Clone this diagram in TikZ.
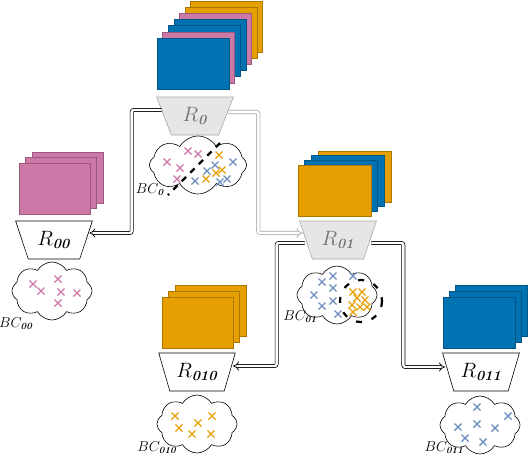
\documentclass[tikz,border=0pt]{standalone}
\usepackage{amsmath}
\usetikzlibrary{arrows.meta,shapes.geometric,shapes.symbols}
\definecolor{CardBlue}{HTML}{0072B2}
\definecolor{CardPink}{HTML}{CC79A7}
\definecolor{CardOrange}{HTML}{E69F00}
\definecolor{MarkBlue}{HTML}{6C8EBF}
\definecolor{StageGray}{HTML}{E6E6E6}
\definecolor{StageEdge}{HTML}{A6A6A6}

\begin{document}
\begin{tikzpicture}[x=1pt,y=-1pt,
  card/.style={rectangle,draw=#1!75!black,fill=#1,line width=0.5pt,minimum width=72pt,minimum height=51pt,inner sep=0pt},
  stage/.style={trapezium,trapezium stretches=true,shape border rotate=180,trapezium angle=68,minimum width=77pt,minimum height=38pt,draw=black,fill=white,line width=0.6pt,font=\fontsize{20}{22}\selectfont},
  donestage/.style={stage,draw=StageEdge,fill=StageGray,text=black!55},
  pool/.style={cloud,cloud puffs=8,cloud puff arc=120,cloud ignores aspect,draw=black,fill=white,line width=0.6pt,minimum width=80pt,minimum height=58pt},
  poollabel/.style={font=\fontsize{13.5}{15}\selectfont,inner sep=0pt},
  xmark/.style={draw=#1,line width=1.4pt},
  split/.style={draw=black,line width=2.2pt,dash pattern=on 6pt off 6pt},
  link/.style={draw=black,double=white,double distance=2.4pt,line width=0.7pt,rounded corners=2pt,-{Implies}},
  donelink/.style={link,draw=black!28,line width=0.9pt}
]
\useasboundingbox (0,0) rectangle (528,456);

% card stacks, back to front
\foreach \k/\c in {6/CardOrange,5/CardOrange,4/CardPink,3/CardBlue,2/CardBlue,1/CardPink,0/CardBlue}
  \node[card=\c] (deck0-\k) at ({193+5.6*\k},{63.5-6.2*\k}) {};
\foreach \k in {2,1,0}
  \node[card=CardPink,minimum width=71pt] (deck00-\k) at ({54.5+6.5*\k},{188.5-5.5*\k}) {};
\foreach \k/\c in {3/CardOrange,2/CardBlue,1/CardBlue,0/CardOrange}
  \node[card=\c,minimum width=73pt] (deck01-\k) at ({334.5+6.7*\k},{190.5-4.7*\k}) {};
\foreach \k in {2,1,0}
  \node[card=CardOrange,minimum width=71pt] (deck010-\k) at ({197.5+6.5*\k},{322.5-6*\k}) {};
\foreach \k in {2,1,0}
  \node[card=CardBlue] (deck011-\k) at ({479+6*\k},{322.5-6*\k}) {};

% stages
\node[donestage] (R0) at (195,116) {$R_{\textbf{\textit{0}}}$};
\node[stage] (R00) at (54,240) {$R_{\textbf{\textit{00}}}$};
\node[donestage] (R01) at (338,240) {$R_{\textbf{\textit{01}}}$};
\node[stage] (R010) at (197,372) {$R_{\textbf{\textit{010}}}$};
\node[stage] (R011) at (481,372) {$R_{\textbf{\textit{011}}}$};

% clouds of samples
\node[pool,minimum width=97pt] (bc0) at (198,165) {};
\node[pool] (bc00) at (52,291) {};
\node[pool] (bc01) at (337,295) {};
\node[pool] (bc010) at (197,424) {};
\node[pool] (bc011) at (480,425) {};

\node[poollabel] (lbc0) at (150,190) {$BC_{\textbf{\textit{0}}}$};
\node[poollabel] (lbc00) at (16,324) {$BC_{\textbf{\textit{00}}}$};
\node[poollabel] (lbc01) at (300,317) {$BC_{\textbf{\textit{01}}}$};
\node[poollabel] (lbc010) at (157,448) {$BC_{\textbf{\textit{010}}}$};
\node[poollabel] (lbc011) at (444,448) {$BC_{\textbf{\textit{011}}}$};

% samples
\foreach \x/\y in {188/151,198/154,167/162,180/168,177/179, 33/284,41/291,58/279,61/292,77/293,58/303}
  \draw[xmark=CardPink] (\x,\y) +(-3.5,-3.5) -- +(3.5,3.5) +(-3.5,3.5) -- +(3.5,-3.5);
\foreach \x/\y in {219/155,206/179,216/173,222/170, 353/292,362/292,357/298,365/300,352/305,360/307,353/312,367/307, 175/416,212/416,198/423,179/428,192/434,211/434}
  \draw[xmark=CardOrange] (\x,\y) +(-3.5,-3.5) -- +(3.5,3.5) +(-3.5,3.5) -- +(3.5,-3.5);
\foreach \x/\y in {215/165,233/162,207/171,195/181,220/182,227/179, 322/282,333/276,353/276,333/288,314/295,333/301,322/306,338/314, 477/407,508/416,477/424,458/427,495/428,465/438,483/442}
  \draw[xmark=MarkBlue] (\x,\y) +(-3.5,-3.5) -- +(3.5,3.5) +(-3.5,3.5) -- +(3.5,-3.5);

% splits
\draw[split] (220,143) -- (168,195);
\draw[split,dash pattern=on 6pt off 10pt] (361,301) circle (21);

% routing
\draw[link] ([shift={(-2pt,6pt)}]R0.west) -- ++(-30,0) |- ([shift={(3pt,7pt)}]R00.east);
\draw[donelink] ([shift={(2pt,4pt)}]R0.east) -- ++(30,0) |- ([shift={(-3pt,7pt)}]R01.west);
\draw[link] ([shift={(-1pt,-3pt)}]R01.west) -- ++(-28,0) |- ([shift={(3pt,6pt)}]R010.east);
\draw[link] ([shift={(1pt,-3pt)}]R01.east) -- ++(32,0) |- ([shift={(-3pt,5pt)}]R011.west);
\end{tikzpicture}
\end{document}
